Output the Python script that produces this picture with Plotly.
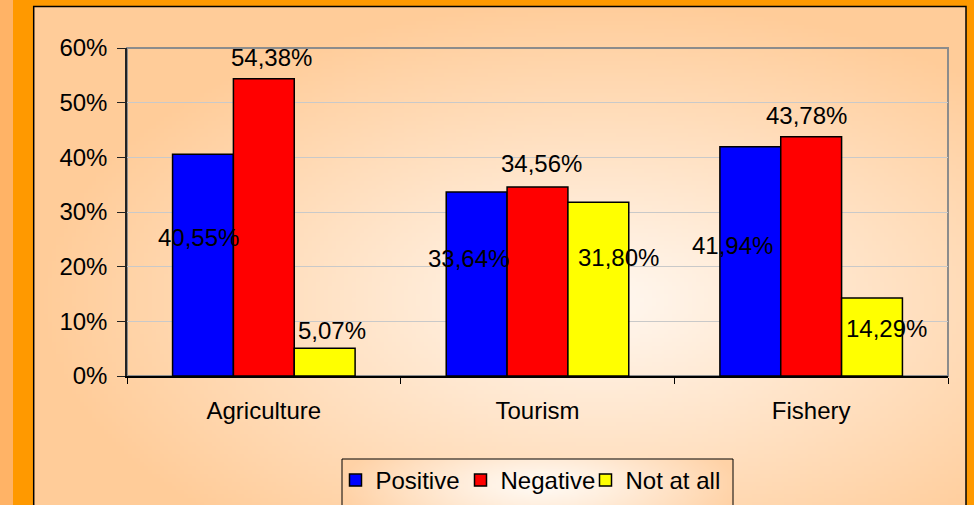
import base64
import struct
import zlib
import plotly.graph_objects as go

# ---------------- data ----------------
categories = ["Agriculture", "Tourism", "Fishery"]
series_names = ["Positive", "Negative", "Not at all"]
positive = [40.55, 33.64, 41.94]
negative = [54.38, 34.56, 43.78]
not_at_all = [5.07, 31.80, 14.29]
y_tick_values = [0, 10, 20, 30, 40, 50, 60]
y_tick_labels = ["0%", "10%", "20%", "30%", "40%", "50%", "60%"]

# ---------------- styles / layout constants ----------------
series_colors = ["#0000FF", "#FF0000", "#FFFF00"]
FONT = "Liberation Sans, Arial, sans-serif"
W, H = 974, 505
ML, MR, MT, MB = 127, 26, 48, 129
PW = W - ML - MR
PH = H - MT - MB
BARGAP = 0.333
# per-label pixel offsets (dx, dy) relative to bar centre / bar top (Excel-like placement)
label_offsets = [
    [(-4, -83), (-8, -66), (-18, -99)],
    [(8, 21), (4, 24), (-5, 21)],
    [(7, 18), (20, -55), (14, -31)],
]


def px(x):
    return (x - ML) / PW


def py(y):
    return (H - MB - y) / PH


def png_data_uri(w, h, func):
    raw = bytearray()
    for j in range(h):
        raw.append(0)
        for i in range(w):
            raw += bytes(func(i, j))

    def chunk(tag, data):
        c = struct.pack(">I", len(data)) + tag + data
        return c + struct.pack(">I", zlib.crc32(tag + data) & 0xFFFFFFFF)

    png = (b"\x89PNG\r\n\x1a\n"
           + chunk(b"IHDR", struct.pack(">IIBBBBB", w, h, 8, 2, 0, 0, 0))
           + chunk(b"IDAT", zlib.compress(bytes(raw), 9))
           + chunk(b"IEND", b""))
    return "data:image/png;base64," + base64.b64encode(png).decode()


def gradient(x0, y0, x1, y1, w, h, cx, cy, hw, hh, c_in, c_out, power=1.0):
    sx = (x1 - x0) / w
    sy = (y1 - y0) / h

    def f(i, j):
        X = x0 + (i + 0.5) * sx
        Y = y0 + (j + 0.5) * sy
        t = min(1.0, (((X - cx) / hw) ** 2 + ((Y - cy) / hh) ** 2) ** 0.5) ** power
        return tuple(int(round(a + (b - a) * t)) for a, b in zip(c_in, c_out))

    return png_data_uri(w, h, f)


# chart-area background gradient
BG = (34, 7, 966, 520)
bg_uri = gradient(*BG, 233, 128, 600, 300, 560, 300,
                  (255, 248, 241), (255, 204, 153), 1.0)
# legend box
LG = (342, 459, 733, 520)
lg_uri = gradient(*LG, 98, 16, 540, 485, 200, 60,
                  (255, 250, 244), (255, 210, 166), 1.2)

fig = go.Figure()
for name, vals, col in zip(series_names, [positive, negative, not_at_all], series_colors):
    fig.add_trace(go.Bar(
        name=name, x=categories, y=vals,
        marker=dict(color=col, line=dict(color="#000000", width=1.5)),
        hoverinfo="x+y+name",
    ))

# data labels
bar_px = PW / len(categories) * (1 - BARGAP) / 3
annotations = []
for s, vals in enumerate([positive, negative, not_at_all]):
    for c, v in enumerate(vals):
        dx, dy = label_offsets[s][c]
        annotations.append(dict(
            x=categories[c], y=v, xref="x", yref="y",
            text=f"{v:.2f}".replace(".", ",") + "%",
            showarrow=False, xanchor="center", yanchor="middle",
            xshift=(s - 1) * bar_px + dx, yshift=dy,
            font=dict(family=FONT, size=24, color="#000000"),
        ))

shapes = [
    # light strip at far left
    dict(type="rect", xref="paper", yref="paper", x0=px(-5), x1=px(13), y0=py(-10), y1=py(H + 20),
         fillcolor="#FFB366", line=dict(width=0), layer="below"),
    # chart-area border
    dict(type="rect", xref="paper", yref="paper", x0=px(33.7), x1=px(966), y0=py(6.5), y1=py(H + 30),
         fillcolor="rgba(0,0,0,0)", line=dict(color="#000000", width=1.5), layer="below"),
    # plot-area frame (grey)
    dict(type="rect", xref="paper", yref="paper", x0=0, x1=1, y0=0, y1=1,
         fillcolor="rgba(0,0,0,0)", line=dict(color="#8C8C8C", width=2), layer="below"),
    # legend frame
    dict(type="rect", xref="paper", yref="paper", x0=px(LG[0]), x1=px(LG[2]), y0=py(LG[1]), y1=py(H + 30),
         fillcolor="rgba(0,0,0,0)", line=dict(color="#000000", width=1), layer="below"),
]

images = [
    dict(source=bg_uri, xref="paper", yref="paper", x=px(BG[0]), y=py(BG[1]),
         sizex=(BG[2] - BG[0]) / PW, sizey=(BG[3] - BG[1]) / PH,
         xanchor="left", yanchor="top", sizing="stretch", layer="below"),
    dict(source=lg_uri, xref="paper", yref="paper", x=px(LG[0]), y=py(LG[1]),
         sizex=(LG[2] - LG[0]) / PW, sizey=(LG[3] - LG[1]) / PH,
         xanchor="left", yanchor="top", sizing="stretch", layer="below"),
]

fig.update_layout(
    width=W, height=H,
    margin=dict(l=ML, r=MR, t=MT, b=MB, autoexpand=False),
    paper_bgcolor="#FF9900",
    plot_bgcolor="rgba(0,0,0,0)",
    barmode="group", bargap=BARGAP, bargroupgap=0,
    font=dict(family=FONT, size=24, color="#000000"),
    showlegend=True,
    legend=dict(
        orientation="h", x=px(523), xanchor="center", y=py(458), yanchor="top",
        bgcolor="rgba(0,0,0,0)", borderwidth=0,
        entrywidth=80, entrywidthmode="pixels",
        font=dict(family=FONT, size=24, color="#000000"),
        itemclick=False, itemdoubleclick=False,
    ),
    xaxis=dict(
        type="category", categoryorder="array", categoryarray=categories,
        showgrid=False, showline=True, linecolor="#000000", linewidth=2,
        ticks="outside", tickson="boundaries", ticklen=6, tickcolor="#000000", tickwidth=1,
        ticklabelstandoff=12,
        tickfont=dict(family=FONT, size=24, color="#000000"),
        zeroline=False,
    ),
    yaxis=dict(
        range=[0, 60], tickmode="array", tickvals=y_tick_values, ticktext=y_tick_labels,
        showgrid=True, gridcolor="#C9C9C9", gridwidth=1,
        showline=True, linecolor="#222222", linewidth=1.5,
        ticks="outside", ticklen=8, tickcolor="#222222", tickwidth=1,
        ticklabelstandoff=5,
        tickfont=dict(family=FONT, size=24, color="#000000"),
        zeroline=False,
    ),
    annotations=annotations,
    shapes=shapes,
    images=images,
)

post_js = """
document.body.style.margin='0';document.body.style.padding='0';
(function(){
  function unclip(){
    document.querySelectorAll('.legend .scrollbox').forEach(function(e){e.removeAttribute('clip-path');});
  }
  unclip(); setTimeout(unclip, 50); setTimeout(unclip, 300);
})();
"""

fig.write_html(
    "out.html",
    config={"displayModeBar": False},
    post_script=post_js,
)
